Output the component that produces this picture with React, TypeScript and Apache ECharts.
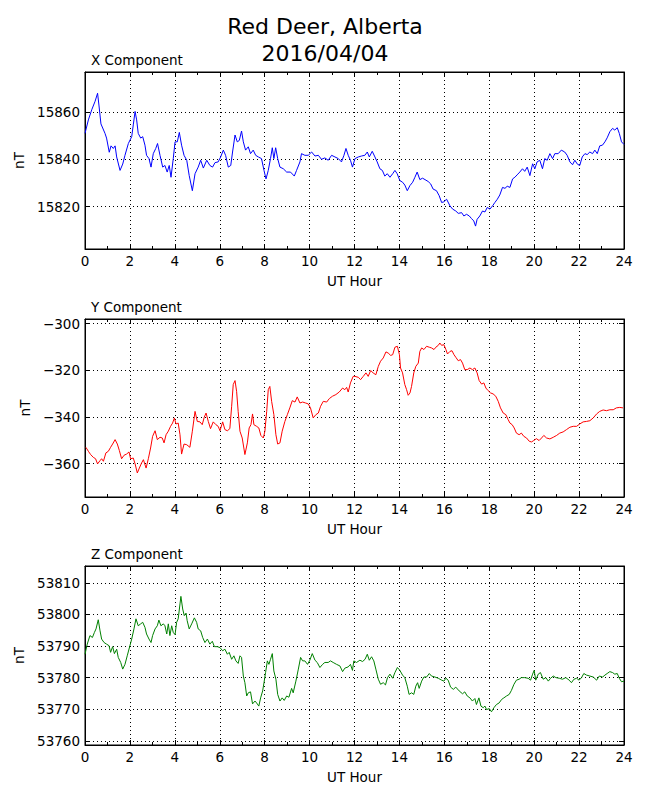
import React, { useEffect, useRef } from "react";
import * as echarts from "echarts";

const FONT = "DejaVu Sans";

const chartTitle = "Red Deer, Alberta\n2016/04/04";
const panelTitles = ["X Component", "Y Component", "Z Component"];
const xAxisName = "UT Hour";
const yAxisName = "nT";

const hourTicks = [0, 2, 4, 6, 8, 10, 12, 14, 16, 18, 20, 22, 24];

// X component (nT)
const xHours = [
  0, 0.15, 0.3, 0.45, 0.56, 0.62, 0.71, 0.89, 0.96, 1.08, 1.16, 1.26, 1.34, 1.41, 1.56, 1.68, 1.78, 1.93,
  2.08, 2.15, 2.23, 2.3, 2.37, 2.48, 2.57, 2.67, 2.74, 2.85, 2.94, 3.04, 3.15, 3.23, 3.34, 3.46, 3.56, 3.66,
  3.75, 3.83, 3.93, 4.01, 4.11, 4.2, 4.3, 4.41, 4.53, 4.64, 4.78, 4.9, 5.04, 5.15, 5.27, 5.42, 5.56, 5.68,
  5.79, 5.93, 6.04, 6.16, 6.26, 6.38, 6.49, 6.57, 6.68, 6.78, 6.87, 6.97, 7.05, 7.15, 7.27, 7.37, 7.49, 7.6,
  7.72, 7.86, 7.97, 8.06, 8.16, 8.26, 8.34, 8.41, 8.49, 8.58, 8.68, 8.83, 8.98, 9.15, 9.32, 9.42, 9.57, 9.64,
  9.79, 9.94, 10.09, 10.24, 10.39, 10.53, 10.68, 10.83, 10.98, 11.13, 11.28, 11.42, 11.53, 11.62, 11.72,
  11.82, 11.91, 12.02, 12.17, 12.31, 12.46, 12.57, 12.66, 12.79, 12.91, 13.01, 13.13, 13.24, 13.35, 13.46,
  13.58, 13.7, 13.8, 13.9, 14.02, 14.14, 14.24, 14.35, 14.47, 14.59, 14.69, 14.79, 14.91, 15.03, 15.14,
  15.28, 15.39, 15.5, 15.65, 15.77, 15.88, 15.98, 16.1, 16.25, 16.37, 16.51, 16.62, 16.77, 16.87, 16.99,
  17.11, 17.21, 17.31, 17.39, 17.46, 17.58, 17.7, 17.81, 17.91, 18.03, 18.15, 18.25, 18.36, 18.47, 18.59,
  18.7, 18.8, 18.92, 19.04, 19.14, 19.24, 19.36, 19.48, 19.58, 19.69, 19.81, 19.93, 20.03, 20.13, 20.25,
  20.37, 20.47, 20.58, 20.7, 20.82, 20.92, 21.07, 21.21, 21.36, 21.47, 21.59, 21.71, 21.81, 21.93, 22.03,
  22.14, 22.26, 22.36, 22.48, 22.6, 22.7, 22.81, 22.92, 23.04, 23.15, 23.25, 23.37, 23.49, 23.59, 23.7,
  23.79, 23.89, 24,
];
const xValues = [
  15851, 15856.7, 15861, 15864.6, 15868, 15863, 15855, 15851, 15849, 15843, 15845.7, 15844.6, 15845.7, 15841,
  15835.3, 15838, 15841.7, 15846.7, 15849.6, 15854.6, 15860.3, 15856.7, 15851, 15849, 15849.6, 15846, 15841.7,
  15840.3, 15836.7, 15842.4, 15844.6, 15846.7, 15841.7, 15836.7, 15837.4, 15834.6, 15837.4, 15832.4, 15840.3,
  15847.4, 15847.4, 15851.4, 15846, 15841.7, 15839.6, 15833.1, 15826.7, 15833.9, 15836.7, 15839.6, 15836.3,
  15839.6, 15837.4, 15836.7, 15838.6, 15838.9, 15841, 15843.9, 15841.7, 15836.7, 15837.4, 15843.1, 15850.3,
  15847.4, 15848, 15852, 15847.4, 15843.9, 15845.3, 15842.4, 15843.9, 15841.7, 15841, 15840.3, 15835.3,
  15831.7, 15835.3, 15840.3, 15844.9, 15840.3, 15844.9, 15840.3, 15836.7, 15836, 15834.6, 15834.6, 15832.9,
  15835.3, 15838.9, 15842.4, 15841.7, 15841.7, 15843.1, 15841.4, 15841.7, 15840, 15840.6, 15839.6, 15841.7,
  15841, 15840.3, 15838.9, 15841.7, 15844.6, 15841.7, 15839.6, 15836.7, 15840.3, 15841, 15841.4, 15841.7,
  15843.1, 15841, 15843.4, 15841, 15838.9, 15836, 15835.3, 15832.9, 15833.9, 15832.4, 15833.9, 15835.3,
  15833.9, 15831, 15830.3, 15829.1, 15826.7, 15828.9, 15830.3, 15832.4, 15834.6, 15831.4, 15832, 15831.4,
  15830.6, 15829.6, 15827.4, 15826.7, 15824.6, 15821.7, 15822, 15823.1, 15820.3, 15818.9, 15818.1, 15817.1,
  15817.4, 15816, 15816.7, 15816, 15814.9, 15813.9, 15811.7, 15814.6, 15816, 15818.1, 15817.7, 15819.6,
  15818.9, 15820.3, 15821.7, 15823.1, 15824.9, 15828.1, 15827.7, 15828.6, 15828.1, 15831.7, 15832.4, 15833.4,
  15834.6, 15836, 15834.9, 15836.7, 15833.1, 15838.1, 15836, 15838.9, 15839.6, 15836, 15840.3, 15839.6,
  15842.4, 15840.3, 15842.4, 15842.4, 15843.9, 15843.1, 15841.7, 15838.9, 15837.7, 15839.6, 15837.9, 15837.4,
  15841, 15842.4, 15842, 15843.1, 15842.4, 15843.9, 15842.4, 15845.7, 15846, 15847.4, 15849.1, 15851.7,
  15853.1, 15852.4, 15853.4, 15851, 15847.4, 15846.3,
];

// Y component (nT)
const yHours = [
  0.04, 0.15, 0.25, 0.37, 0.47, 0.56, 0.67, 0.74, 0.82, 0.93, 1.04, 1.14, 1.23, 1.34, 1.44, 1.53, 1.63, 1.74,
  1.85, 1.96, 2.03, 2.15, 2.23, 2.33, 2.42, 2.52, 2.6, 2.72, 2.82, 2.92, 3.01, 3.12, 3.22, 3.34, 3.44, 3.52,
  3.61, 3.71, 3.81, 3.9, 3.98, 4.05, 4.15, 4.23, 4.3, 4.41, 4.53, 4.67, 4.78, 4.9, 5, 5.12, 5.22, 5.31, 5.39,
  5.49, 5.59, 5.71, 5.83, 5.93, 6.01, 6.13, 6.23, 6.34, 6.45, 6.53, 6.6, 6.68, 6.75, 6.82, 6.9, 7, 7.12, 7.23,
  7.31, 7.39, 7.46, 7.52, 7.64, 7.74, 7.83, 7.94, 8.01, 8.09, 8.16, 8.23, 8.31, 8.41, 8.5, 8.58, 8.68, 8.78,
  8.9, 9.01, 9.12, 9.23, 9.35, 9.45, 9.57, 9.69, 9.82, 9.94, 10.04, 10.16, 10.28, 10.39, 10.49, 10.61, 10.76,
  10.88, 11.02, 11.17, 11.32, 11.47, 11.57, 11.65, 11.72, 11.82, 11.94, 12.02, 12.17, 12.27, 12.39, 12.51,
  12.61, 12.72, 12.83, 12.95, 13.06, 13.16, 13.28, 13.4, 13.5, 13.61, 13.7, 13.8, 13.91, 14, 14.05, 14.14,
  14.24, 14.32, 14.39, 14.47, 14.54, 14.64, 14.73, 14.84, 14.91, 14.99, 15.09, 15.21, 15.33, 15.43, 15.54,
  15.62, 15.73, 15.8, 15.88, 15.98, 16.07, 16.14, 16.25, 16.34, 16.43, 16.51, 16.62, 16.72, 16.81, 16.91,
  17.02, 17.14, 17.25, 17.36, 17.46, 17.55, 17.66, 17.76, 17.85, 17.95, 18.06, 18.17, 18.29, 18.4, 18.5,
  18.62, 18.74, 18.84, 18.92, 19.02, 19.11, 19.21, 19.33, 19.43, 19.54, 19.66, 19.78, 19.88, 19.98, 20.1,
  20.22, 20.33, 20.43, 20.55, 20.7, 20.85, 21, 21.14, 21.29, 21.44, 21.59, 21.74, 21.89, 22.03, 22.18, 22.33,
  22.48, 22.63, 22.78, 22.92, 23.07, 23.22, 23.37, 23.52, 23.66, 23.81, 23.96,
];
const yValues = [
  -353, -354.7, -356.1, -357.3, -357.9, -360.1, -358.7, -357.9, -359, -355.4, -354.7, -353, -351.6, -349.7,
  -351.6, -354.4, -357.9, -356.4, -355.9, -355, -357.9, -357.6, -360.1, -364, -361.9, -359.7, -358.3, -361.9,
  -357.9, -353.3, -348.3, -345.9, -349.7, -348.7, -349, -351.1, -347.6, -346.1, -344, -342.6, -340.4, -343,
  -342.6, -347.6, -355.9, -351.6, -351.9, -353, -346.1, -337.6, -341.9, -342.1, -343.3, -340.1, -338.3,
  -341.9, -345, -342.1, -343.3, -344, -345.9, -342.1, -345.4, -345.9, -345, -335.4, -326.1, -324.4, -329,
  -337.6, -346.1, -349, -356.1, -351.1, -344.7, -343.3, -338.7, -343.3, -344, -344.7, -347.9, -349, -346.1,
  -337.6, -328.3, -326.9, -333.3, -339, -347.6, -351.6, -351.1, -346.1, -341.9, -339, -336.1, -333, -333.6,
  -331.4, -334, -333.6, -334, -334.4, -336.1, -340.4, -339, -338.3, -335.4, -333.3, -333.6, -332.1, -331.1,
  -330.4, -329.3, -327.6, -328.3, -327.3, -329.3, -325.4, -322.6, -322.6, -323, -324, -322.6, -321.1, -322.6,
  -320.1, -321.1, -321.9, -318.3, -316.1, -314.7, -312.1, -312.6, -313.6, -313.3, -310.1, -309.7, -313.3,
  -319, -321.1, -326.1, -328.3, -330.7, -329.7, -326.9, -321.1, -318.3, -316.9, -311.9, -310.4, -311.1,
  -309.7, -310.1, -310.4, -311.1, -310.1, -309.3, -308.3, -309.3, -309, -311.1, -313, -311.9, -311.6, -313.3,
  -314.4, -315.9, -315.4, -316.9, -319.7, -319.7, -319, -319.7, -319, -321.1, -324.4, -325.9, -325.4, -327.6,
  -328.7, -329.7, -330.1, -331.1, -333.3, -336.1, -338.3, -339, -341.1, -342.6, -343.3, -344.7, -346.9,
  -347.6, -346.9, -348.3, -349, -350.4, -350.7, -350.1, -349.3, -350.1, -349, -347.9, -349, -349.4, -348.7,
  -347.9, -346.9, -346.4, -345.4, -344.4, -344, -344, -343, -342.1, -341.9, -341.6, -340.4, -338.7, -337.6,
  -337, -337.3, -336.9, -336.9, -336.1, -335.9, -336.1,
];

// Z component (nT)
const zHours = [
  0, 0.1, 0.22, 0.33, 0.42, 0.49, 0.59, 0.67, 0.74, 0.85, 0.96, 1.07, 1.14, 1.23, 1.31, 1.41, 1.48, 1.59,
  1.68, 1.78, 1.88, 2, 2.08, 2.18, 2.27, 2.37, 2.48, 2.57, 2.67, 2.74, 2.85, 2.94, 3.01, 3.12, 3.22, 3.29,
  3.38, 3.49, 3.56, 3.64, 3.71, 3.78, 3.86, 3.93, 4.01, 4.08, 4.15, 4.23, 4.27, 4.35, 4.42, 4.5, 4.55, 4.64,
  4.75, 4.87, 4.97, 5.04, 5.15, 5.24, 5.34, 5.45, 5.56, 5.67, 5.76, 5.89, 6.01, 6.13, 6.23, 6.34, 6.42, 6.53,
  6.63, 6.72, 6.82, 6.9, 6.97, 7.05, 7.12, 7.2, 7.27, 7.37, 7.46, 7.57, 7.64, 7.74, 7.82, 7.91, 7.97, 8.04,
  8.12, 8.19, 8.26, 8.34, 8.41, 8.5, 8.58, 8.68, 8.78, 8.87, 8.98, 9.08, 9.2, 9.27, 9.39, 9.5, 9.6, 9.69,
  9.79, 9.91, 10.01, 10.12, 10.24, 10.34, 10.46, 10.58, 10.68, 10.83, 10.93, 11.05, 11.2, 11.35, 11.47,
  11.57, 11.72, 11.82, 11.91, 11.97, 12.09, 12.24, 12.36, 12.47, 12.57, 12.66, 12.76, 12.86, 12.95, 13.06,
  13.16, 13.28, 13.38, 13.47, 13.58, 13.7, 13.8, 13.91, 14.02, 14.14, 14.24, 14.35, 14.43, 14.54, 14.64,
  14.73, 14.81, 14.88, 14.99, 15.09, 15.21, 15.33, 15.43, 15.58, 15.73, 15.88, 15.98, 16.07, 16.17, 16.28,
  16.4, 16.51, 16.66, 16.81, 16.91, 17.02, 17.14, 17.25, 17.36, 17.43, 17.54, 17.63, 17.73, 17.81, 17.88,
  18, 18.1, 18.21, 18.32, 18.44, 18.55, 18.65, 18.77, 18.89, 18.99, 19.1, 19.21, 19.33, 19.43, 19.58, 19.73,
  19.84, 19.93, 20, 20.07, 20.18, 20.28, 20.4, 20.52, 20.63, 20.73, 20.85, 20.97, 21.12, 21.26, 21.41,
  21.56, 21.66, 21.77, 21.89, 22, 22.11, 22.21, 22.33, 22.48, 22.63, 22.78, 22.9, 23.05, 23.15, 23.25,
  23.37, 23.49, 23.59, 23.7, 23.79, 23.89, 24,
];
const zValues = [
  53787.4, 53790.6, 53793.3, 53792.7, 53794.3, 53795.4, 53798.3, 53794.8, 53792.2, 53791.1, 53790.6, 53790.1,
  53788, 53789.8, 53787.6, 53789, 53786.4, 53784.8, 53782.7, 53784.2, 53786.9, 53790.1, 53792.2, 53795.4,
  53798.6, 53796.4, 53797, 53797.5, 53795.9, 53793.8, 53792.2, 53791.1, 53793.3, 53795.4, 53796.4, 53798.2,
  53796.4, 53797, 53796.4, 53793.8, 53797, 53793.3, 53796.4, 53794.3, 53793.6, 53797.5, 53798.6, 53803.3,
  53805.7, 53801.7, 53799.6, 53800.4, 53798, 53795.4, 53797, 53798.9, 53797.5, 53795.4, 53794.8, 53792.7,
  53791.1, 53792.2, 53790.6, 53791.5, 53789.8, 53789.8, 53789.5, 53788.5, 53789, 53787.4, 53788, 53785.8,
  53786.9, 53785.3, 53784.5, 53786.9, 53786.4, 53780.5, 53778.4, 53774.2, 53775.2, 53775.5, 53771.7, 53772.6,
  53772, 53771, 53773.6, 53775.8, 53778.4, 53781.6, 53785.3, 53784.2, 53785.8, 53787.6, 53782.1, 53779.5,
  53774.7, 53772.6, 53773.6, 53772.8, 53774.2, 53773.8, 53776.6, 53775.2, 53778.9, 53782.7, 53786.4, 53785.3,
  53785.3, 53784.2, 53785.5, 53787.6, 53785.5, 53784.8, 53783.2, 53784.2, 53784.8, 53784.8, 53785.3, 53784.8,
  53784.2, 53783.7, 53781.9, 53783, 53783.4, 53784.2, 53782.3, 53785.3, 53784.8, 53785.5, 53785.1, 53785.8,
  53787.4, 53785.5, 53786.6, 53785.3, 53782.7, 53779.5, 53777.9, 53778.4, 53777.7, 53780, 53781.1, 53779.8,
  53781.6, 53783.2, 53782.3, 53780.8, 53780, 53777.3, 53774.7, 53775.2, 53774.7, 53777.3, 53778.4, 53776.6,
  53778.9, 53780.2, 53780.2, 53781.3, 53780.5, 53780.2, 53779.8, 53779.2, 53778.9, 53779.8, 53779.2, 53777,
  53776.3, 53777, 53775.8, 53774.9, 53775.5, 53774.2, 53773.6, 53772.6, 53773.4, 53771.5, 53773.6, 53771,
  53770.5, 53771, 53769.9, 53770.2, 53769.2, 53770.5, 53771.5, 53772, 53773.1, 53773.6, 53774.2, 53774.7,
  53776, 53777.9, 53779.2, 53779.5, 53780, 53780, 53779.8, 53779.2, 53781.1, 53782.3, 53779.2, 53781.1,
  53781.6, 53779.5, 53780, 53778.9, 53779.8, 53780.5, 53780, 53779.8, 53779.5, 53780, 53779.2, 53778.4,
  53779.5, 53779.8, 53779.2, 53780, 53781.3, 53780.8, 53780.5, 53780.2, 53779.2, 53780.5, 53780.2, 53780.8,
  53781.3, 53781.9, 53781.6, 53781.1, 53781.3, 53779.8, 53778.7, 53778.9,
];

const pair = (h: number[], v: number[]) => h.map((x, i) => [x, v[i]]);

export default function App() {
  const ref = useRef<HTMLDivElement>(null);

  useEffect(() => {
    const el = ref.current;
    if (!el) return;
    const chart = echarts.init(el, null, { renderer: "svg" });

    const panels = [
      { top: 72, height: 177, min: 15802, max: 15877, step: 20, gap: 56, color: "#0000ff", titleTop: 52, hours: xHours, values: xValues },
      { top: 319, height: 178, min: -374.3, max: -298, step: 20, gap: 50, color: "#ff0000", titleTop: 299, hours: yHours, values: yValues },
      { top: 566, height: 179, min: 53758.7, max: 53815.3, step: 10, gap: 56, color: "#008000", titleTop: 546, hours: zHours, values: zValues },
    ];

    const txt = { fontFamily: FONT, color: "#000", fontSize: 13.5 };
    const lineBlack = { color: "#000", width: 1 };
    const dotted = { color: "#000", width: 1, type: [1, 3] as number[] };

    const grids = panels.map((p) => ({
      left: 85,
      width: 539,
      top: p.top,
      height: p.height,
      show: true,
      borderColor: "#000",
      borderWidth: 1,
      backgroundColor: "transparent",
    }));

    const bottomX = panels.map((_, i) => ({
      type: "value",
      gridIndex: i,
      position: "bottom",
      min: hourTicks[0],
      max: hourTicks[hourTicks.length - 1],
      interval: 2,
      name: xAxisName,
      nameLocation: "middle",
      nameGap: 25,
      nameTextStyle: { ...txt },
      axisLine: { show: true, onZero: false, lineStyle: lineBlack },
      axisTick: { show: true, inside: true, length: 5, lineStyle: lineBlack },
      minorTick: { show: true, splitNumber: 2, length: 3, lineStyle: lineBlack },
      axisLabel: { ...txt, margin: 5 },
      splitLine: { show: true, lineStyle: dotted },
    }));

    const topX = panels.map((_, i) => ({
      type: "value",
      gridIndex: i,
      position: "top",
      min: hourTicks[0],
      max: hourTicks[hourTicks.length - 1],
      interval: 2,
      axisLine: { show: true, onZero: false, lineStyle: lineBlack },
      axisTick: { show: true, inside: true, length: 5, lineStyle: lineBlack },
      minorTick: { show: true, splitNumber: 2, length: 3, lineStyle: lineBlack },
      axisLabel: { show: false },
      splitLine: { show: false },
    }));

    const leftY = panels.map((p, i) => ({
      type: "value",
      gridIndex: i,
      position: "left",
      min: p.min,
      max: p.max,
      minInterval: p.step,
      maxInterval: p.step,
      scale: true,
      name: yAxisName,
      nameLocation: "middle",
      nameGap: p.gap,
      nameTextStyle: { ...txt },
      axisLine: { show: true, onZero: false, lineStyle: lineBlack },
      axisTick: { show: true, inside: true, length: 5, lineStyle: lineBlack },
      axisLabel: {
        ...txt,
        margin: 5,
        showMinLabel: false,
        showMaxLabel: false,
        formatter: (v: number) => String(Math.round(v)).replace("-", "\u2212"),
      },
      splitLine: { show: true, lineStyle: dotted },
    }));

    const rightY = panels.map((p, i) => ({
      type: "value",
      gridIndex: i,
      position: "right",
      min: p.min,
      max: p.max,
      minInterval: p.step,
      maxInterval: p.step,
      scale: true,
      axisLine: { show: true, onZero: false, lineStyle: lineBlack },
      axisTick: { show: true, inside: true, length: 5, lineStyle: lineBlack },
      axisLabel: { show: false },
      splitLine: { show: false },
    }));

    const titles: any[] = [
      {
        text: chartTitle,
        left: "center",
        top: 13,
        padding: 0,
        textStyle: { fontFamily: FONT, color: "#000", fontSize: 22, fontWeight: "normal", lineHeight: 27 },
      },
      ...panels.map((p, i) => ({
        text: panelTitles[i],
        left: 91,
        top: p.titleTop,
        padding: 0,
        textStyle: { fontFamily: FONT, color: "#000", fontSize: 13.5, fontWeight: "normal", lineHeight: 16 },
      })),
    ];

    const series = panels.map((p, i) => ({
      type: "line",
      xAxisIndex: i,
      yAxisIndex: i,
      data: pair(p.hours, p.values),
      showSymbol: false,
      symbol: "none",
      lineStyle: { color: p.color, width: 1 },
      itemStyle: { color: p.color },
    }));

    chart.setOption({
      animation: false,
      backgroundColor: "#ffffff",
      textStyle: { fontFamily: FONT },
      title: titles,
      grid: grids,
      xAxis: [...bottomX, ...topX],
      yAxis: [...leftY, ...rightY],
      series,
    } as any);

    return () => chart.dispose();
  }, []);

  return (
    <div
      ref={ref}
      style={{ position: "absolute", left: 0, top: 0, width: 650, height: 800, background: "#fff" }}
    />
  );
}
